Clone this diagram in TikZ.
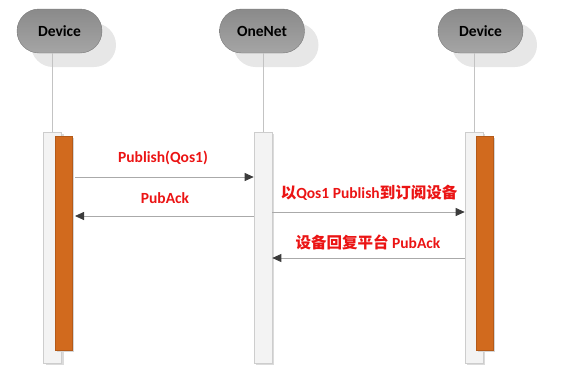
\documentclass[tikz,border=0pt]{standalone}
\usepackage{fontspec}
\setmainfont{Carlito}
\newfontfamily\cjk{Noto Sans CJK SC}
\usepackage{xcolor}
\usepackage{tikz}
\usetikzlibrary{arrows.meta,shadows}

\definecolor{shadowgray}{RGB}{231,231,231}
\definecolor{barorange}{RGB}{209,106,30}
\definecolor{msgred}{RGB}{235,20,20}
\definecolor{wiregray}{RGB}{170,170,170}
\definecolor{lifegray}{RGB}{195,195,195}
\definecolor{tipgray}{RGB}{60,60,60}

\begin{document}
\begin{tikzpicture}[x=1pt, y=-1pt,
  actor/.style={rectangle, rounded corners=22pt, minimum width=85pt, minimum height=44pt,
    top color={rgb,255:red,138;green,138;blue,138}, bottom color={rgb,255:red,165;green,165;blue,165},
    draw={rgb,255:red,120;green,120;blue,120}, line width=0.4pt, inner sep=0pt,
    font=\bfseries\fontsize{15.5}{17}\selectfont,
    drop shadow={shadow xshift=14pt, shadow yshift=-14pt, fill=shadowgray, opacity=1}},
  lifebar/.style={rectangle, minimum width=18pt, minimum height=231pt, inner sep=0pt,
    fill={rgb,255:red,243;green,243;blue,243}, draw={rgb,255:red,205;green,205;blue,205}, line width=0.6pt,
    drop shadow={shadow xshift=2pt, shadow yshift=-2pt, fill=lifegray!60, opacity=1}},
  runbar/.style={rectangle, minimum width=17pt, minimum height=214pt, inner sep=0pt,
    fill=barorange, draw={rgb,255:red,180;green,90;blue,25}, line width=0.4pt,
    drop shadow={shadow xshift=1.5pt, shadow yshift=-1.5pt, fill=lifegray!70, opacity=1}},
  msg/.style={draw=wiregray, line width=0.8pt, -{Triangle[length=9pt, width=8pt, color=tipgray]}},
  msglabel/.style={text=msgred, font=\bfseries\fontsize{15.5}{17}\selectfont, inner sep=0pt}]

  \useasboundingbox (0,0) rectangle (561,376);

  % Actors
  \node[actor] (devL) at (59.5,31) {Device};
  \node[actor] (net) at (262,31) {OneNet};
  \node[actor] (devR) at (480.5,31) {Device};

  % Lifelines and bars
  \foreach \n/\x in {L/52.5, N/263, R/474} {
    \coordinate (top\n) at (\x,53);
    \node[lifebar] (bar\n) at (\x,247.5) {};
    \draw[lifegray, line width=0.6pt] (top\n) -- (bar\n.north);
  }
  \node[runbar] (runL) at (63.5,243) {};
  \node[runbar] (runR) at (485,243) {};

  % Messages
  \coordinate (pubS) at (75,177);
  \coordinate (pubE) at (barN.west |- pubS);
  \coordinate (ackS) at (barN.west |- 0,216);
  \coordinate (ackE) at (75,216);
  \coordinate (fwdS) at (barN.east |- 0,212);
  \coordinate (fwdE) at (barR.west |- fwdS);
  \coordinate (repS) at (barR.west |- 0,258);
  \coordinate (repE) at (barN.east |- repS);
  \draw[msg] (pubS) -- (pubE);
  \draw[msg] (ackS) -- (ackE);
  \draw[msg] (fwdS) -- (fwdE);
  \draw[msg] (repS) -- (repE);

  % Labels
  \node[msglabel] (pubT) at (163,158) {Publish(Qos1)};
  \node[msglabel] (ackT) at (165,198) {PubAck};
  \node[msglabel] (fwdT) at (369,193) {{\cjk 以}Qos1 Publish{\cjk 到订阅设备}};
  \node[msglabel] (repT) at (368,242) {{\cjk 设备回复平台} PubAck};
\end{tikzpicture}
\end{document}
